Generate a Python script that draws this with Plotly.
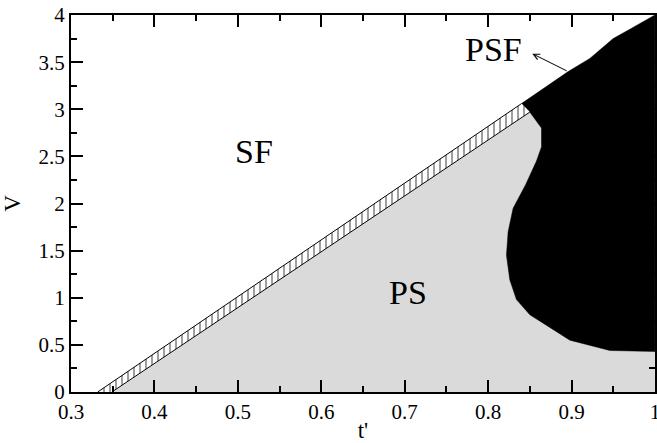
import plotly.graph_objects as go

# SF boundary strip (hatched): outer (upper) edge and inner (lower) edge
outer_t = [0.332, 0.840]
outer_V = [0.0, 3.06]
inner_t = [0.349, 0.850]
inner_V = [0.0, 2.97]

# PSF (black) region boundary
psf_t = [0.840, 0.896, 0.922, 0.950, 0.970, 1.0, 1.0, 0.946, 0.898, 0.850, 0.834,
         0.826, 0.822, 0.824, 0.830, 0.845, 0.858, 0.864, 0.864, 0.850]
psf_V = [3.06, 3.40, 3.54, 3.75, 3.85, 4.0, 0.43, 0.44, 0.55, 0.82, 0.98,
         1.19, 1.45, 1.70, 1.95, 2.20, 2.45, 2.60, 2.80, 2.97]

# PS (gray) region corners
ps_t = [inner_t[0], inner_t[1], 1.0, 1.0]
ps_V = [inner_V[0], inner_V[1], inner_V[1], 0.0]

# labels
label_text = ["SF", "PS"]
label_t = [0.519, 0.704]
label_V = [2.55, 1.06]
psf_label = dict(t=0.806, V=3.63, head_t=0.853, head_V=3.59, tail_t=0.896, tail_V=3.40)

x_ticks = [0.3, 0.4, 0.5, 0.6, 0.7, 0.8, 0.9, 1.0]
y_ticks = [0, 0.5, 1, 1.5, 2, 2.5, 3, 3.5, 4]

FONT = "Liberation Serif"

fig = go.Figure()
fig.add_trace(go.Scatter(
    x=ps_t + [ps_t[0]], y=ps_V + [ps_V[0]], mode="lines", fill="toself",
    fillcolor="#dadada", line=dict(width=0, color="#dadada"), showlegend=False))
fig.add_trace(go.Scatter(
    x=psf_t + [psf_t[0]], y=psf_V + [psf_V[0]], mode="lines", fill="toself",
    fillcolor="black", line=dict(width=0.5, color="black"), showlegend=False))

strip_t = [outer_t[0], outer_t[1], inner_t[1], inner_t[0], outer_t[0]]
strip_V = [outer_V[0], outer_V[1], inner_V[1], inner_V[0], outer_V[0]]
fig.add_trace(go.Scatter(
    x=strip_t, y=strip_V, mode="lines", fill="toself", fillcolor="white",
    fillpattern=dict(shape="|", size=6, solidity=0.25, fgcolor="black", bgcolor="white"),
    line=dict(width=0), showlegend=False))
fig.add_trace(go.Scatter(x=outer_t, y=outer_V, mode="lines",
                         line=dict(color="black", width=1), showlegend=False))
fig.add_trace(go.Scatter(x=inner_t, y=inner_V, mode="lines",
                         line=dict(color="black", width=1), showlegend=False))

for txt, t, v in zip(label_text, label_t, label_V):
    fig.add_annotation(x=t, y=v, text=txt, showarrow=False,
                       font=dict(family=FONT, size=34, color="black"))
fig.add_annotation(x=psf_label["t"], y=psf_label["V"], text="PSF", showarrow=False,
                   font=dict(family=FONT, size=34, color="black"))
fig.add_annotation(x=psf_label["head_t"], y=psf_label["head_V"],
                   ax=psf_label["tail_t"], ay=psf_label["tail_V"],
                   axref="x", ayref="y", text="", showarrow=True,
                   arrowhead=5, arrowsize=1.2, arrowwidth=1, arrowcolor="black")

x_step = round(x_ticks[1] - x_ticks[0], 6)
y_step = round(y_ticks[1] - y_ticks[0], 6)

axis_style = dict(ticks="inside", ticklen=12, tickwidth=1.5, tickcolor="black",
                  showline=True, linecolor="black", linewidth=2, mirror="ticks",
                  showgrid=False, zeroline=False, automargin=False, ticklabeloverflow="allow",
                  tickfont=dict(family=FONT, size=21, color="black"))

fig.update_layout(
    width=657, height=443, margin=dict(l=71, r=2, t=15, b=51),
    font=dict(family=FONT, color="black"),
    plot_bgcolor="white", paper_bgcolor="white", showlegend=False,
    xaxis=dict(range=[x_ticks[0] - 1e-4, x_ticks[-1] + 1e-4], tick0=x_ticks[0], dtick=x_step,
               minor=dict(dtick=x_step / 2, ticks="inside", ticklen=6, tickwidth=1.5,
                          tickcolor="black"),
               title=dict(text="t'", font=dict(family=FONT, size=23, color="black")),
               **axis_style),
    yaxis=dict(range=[y_ticks[0] - 5e-4, y_ticks[-1] + 5e-4], tick0=y_ticks[0], dtick=y_step,
               minor=dict(dtick=y_step / 2, ticks="inside", ticklen=6, tickwidth=1.5,
                          tickcolor="black"),
               title=dict(text="V", font=dict(family=FONT, size=23, color="black")),
               **axis_style),
)
fig.write_html("out.html")
